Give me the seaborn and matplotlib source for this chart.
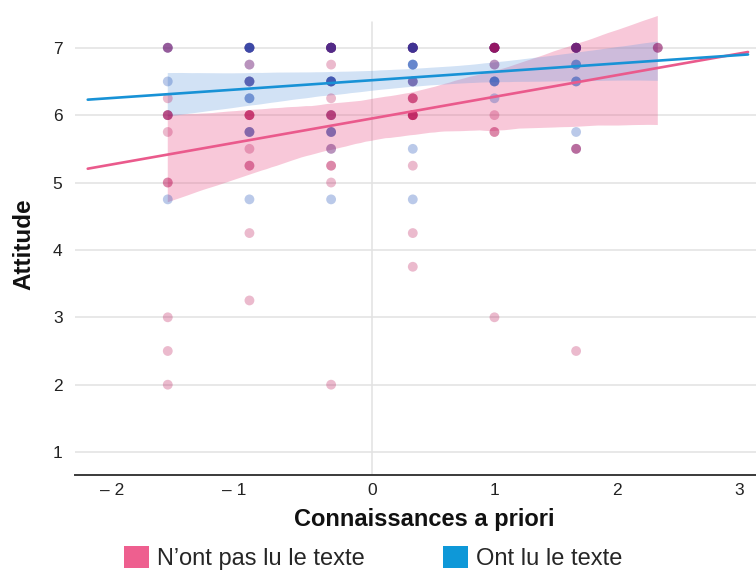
import numpy as np
import pandas as pd
import seaborn as sns
import matplotlib.pyplot as plt
from matplotlib.patches import Patch
from matplotlib.transforms import ScaledTranslation

# ---------------- data ----------------
group_names = ["N\u2019ont pas lu le texte", "Ont lu le texte"]

# Group 1: N'ont pas lu le texte  (x = prior knowledge, y = attitude, n = count)
pas_x = [-5/3]*8 + [-1]*9 + [-1/3]*10 + [1/3]*7 + [1]*5 + [5/3]*3 + [7/3]
pas_y = [7, 6.25, 6.0, 5.75, 5.0, 3.0, 2.5, 2.0,
         7, 6.75, 6.5, 6.0, 5.75, 5.5, 5.25, 4.25, 3.25,
         7, 6.75, 6.5, 6.25, 6.0, 5.75, 5.5, 5.25, 5.0, 2.0,
         7, 6.5, 6.25, 6.0, 5.25, 4.25, 3.75,
         7, 6.75, 6.0, 5.75, 3.0,
         7, 5.5, 2.5,
         7]
pas_n = [2, 1, 3, 1, 2, 1, 1, 1,
         2, 1, 1, 4, 1, 1, 2, 1, 1,
         6, 1, 1, 1, 3, 1, 1, 2, 1, 1,
         5, 1, 3, 5, 1, 1, 1,
         7, 1, 1, 2, 1,
         5, 2, 1,
         2]

# Group 2: Ont lu le texte
lu_x = [-5/3]*4 + [-1]*6 + [-1/3]*6 + [1/3]*5 + [1]*4 + [5/3]*5 + [7/3]
lu_y = [7, 6.5, 6.0, 4.75,
        7, 6.75, 6.5, 6.25, 5.75, 4.75,
        7, 6.5, 6.0, 5.75, 5.5, 4.75,
        7, 6.75, 6.5, 5.5, 4.75,
        7, 6.75, 6.5, 6.25,
        7, 6.75, 6.5, 5.75, 5.5,
        7]
lu_n = [2, 1, 1, 1,
        5, 1, 3, 2, 2, 1,
        7, 4, 1, 2, 1, 1,
        7, 3, 2, 1, 1,
        5, 1, 3, 1,
        5, 2, 2, 1, 1,
        1]

x_ticks = [-2, -1, 0, 1, 2, 3]
x_tick_labels = ["\u2013 2", "\u2013 1", "0", "1", "2", "3"]
y_ticks = [1, 2, 3, 4, 5, 6, 7]

# ---------------- frame ----------------
df = pd.concat([
    pd.DataFrame({"x": np.repeat(pas_x, pas_n), "y": np.repeat(pas_y, pas_n), "g": group_names[0]}),
    pd.DataFrame({"x": np.repeat(lu_x, lu_n), "y": np.repeat(lu_y, lu_n), "g": group_names[1]}),
], ignore_index=True)
# interleave the two groups' layers at shared positions
df["layer"] = df.groupby(["g", "x", "y"]).cumcount()
df["gorder"] = df["g"].map({group_names[1]: 0, group_names[0]: 1})
df_pts = df.sort_values(["layer", "gorder"], kind="stable").reset_index(drop=True)

sns.set_theme(style="white")
plt.rcParams["font.family"] = ["Liberation Sans", "DejaVu Sans"]

line_cols = {group_names[0]: "#EA5A8C", group_names[1]: "#1892D6"}
band_cols = {group_names[0]: ("#EA5A8C", 0.33), group_names[1]: ("#6A9FE0", 0.30)}
band_ci = {group_names[0]: 98, group_names[1]: 95}
pt_cols = {group_names[0]: "#B8084E", group_names[1]: "#0A40B0"}

fig = plt.figure(figsize=(7.56, 5.72), dpi=100)
ax = fig.add_axes([0.0992, 0.1696, 0.9008, 0.8129])

xlim_final = (-2.424, 3.135)
ylim = (0.66, 7.56)
ax.set_ylim(*ylim)

# confidence bands (over data range)
ax.set_xlim(*xlim_final)
for g in group_names:
    sub = df[df.g == g]
    n_before = len(ax.collections)
    sns.regplot(data=sub, x="x", y="y", scatter=False, ci=band_ci[g], n_boot=2000, seed=3,
                truncate=True, ax=ax, line_kws=dict(alpha=0))
    for coll in ax.collections[n_before:]:
        c, a = band_cols[g]
        coll.set_facecolor(c)
        coll.set_alpha(a)
        coll.set_edgecolor("none")
        coll.set_zorder(1)

# points
sns.scatterplot(data=df_pts, x="x", y="y", hue="g", palette=pt_cols, alpha=0.28, s=50,
                linewidth=0, legend=False, ax=ax, zorder=3)

# regression lines over the extended range
ax.set_xlim(-2.32, 3.07)
for g in group_names:
    sub = df[df.g == g]
    sns.regplot(data=sub, x="x", y="y", scatter=False, ci=None, truncate=False, ax=ax,
                line_kws=dict(color=line_cols[g], linewidth=1.9, zorder=4))
ax.set_xlim(*xlim_final)
ax.set_ylim(*ylim)

# axes styling
ax.set_yticks(y_ticks)
ax.set_xticks(x_ticks)
ax.set_xticklabels(x_tick_labels)
ax.grid(False)
ax.grid(axis="y", color="#e2e2e2", linewidth=1.1)
ax.set_axisbelow(True)
ytop_line = 7.38
ax.axvline(0, ymin=0, ymax=(ytop_line - ylim[0]) / (ylim[1] - ylim[0]), color="#e2e2e2", lw=1.1, zorder=0)
for s in ["top", "right", "left"]:
    ax.spines[s].set_visible(False)
ax.spines["bottom"].set_color("#3a3a3a")
ax.spines["bottom"].set_linewidth(1.4)
ax.tick_params(axis="both", length=0, labelsize=12.5, colors="#222222")
ax.tick_params(axis="y", pad=9)
ax.tick_params(axis="x", pad=6)
for lab, v in zip(ax.get_xticklabels(), x_ticks):
    if v < 0:
        lab.set_transform(lab.get_transform() + ScaledTranslation(-15 / 100, 0, fig.dpi_scale_trans))

ax.set_xlabel("Connaissances a priori", fontsize=17, fontweight="bold", color="#111111")
ax.set_ylabel("Attitude", fontsize=17.5, fontweight="bold", color="#111111")
ax.xaxis.set_label_coords(0.5125, -0.071)
ax.yaxis.set_label_coords(-0.058, 0.497)

handles = [Patch(facecolor="#EE5F8F", edgecolor="none"), Patch(facecolor="#0E98D8", edgecolor="none")]
fig.legend(handles, group_names, loc="center", bbox_to_anchor=(0.494, 0.025), ncol=2, frameon=False,
           fontsize=17, handlelength=1.06, handleheight=1.06, handletextpad=0.34, columnspacing=3.3)

fig.savefig("out.png", dpi=100)
